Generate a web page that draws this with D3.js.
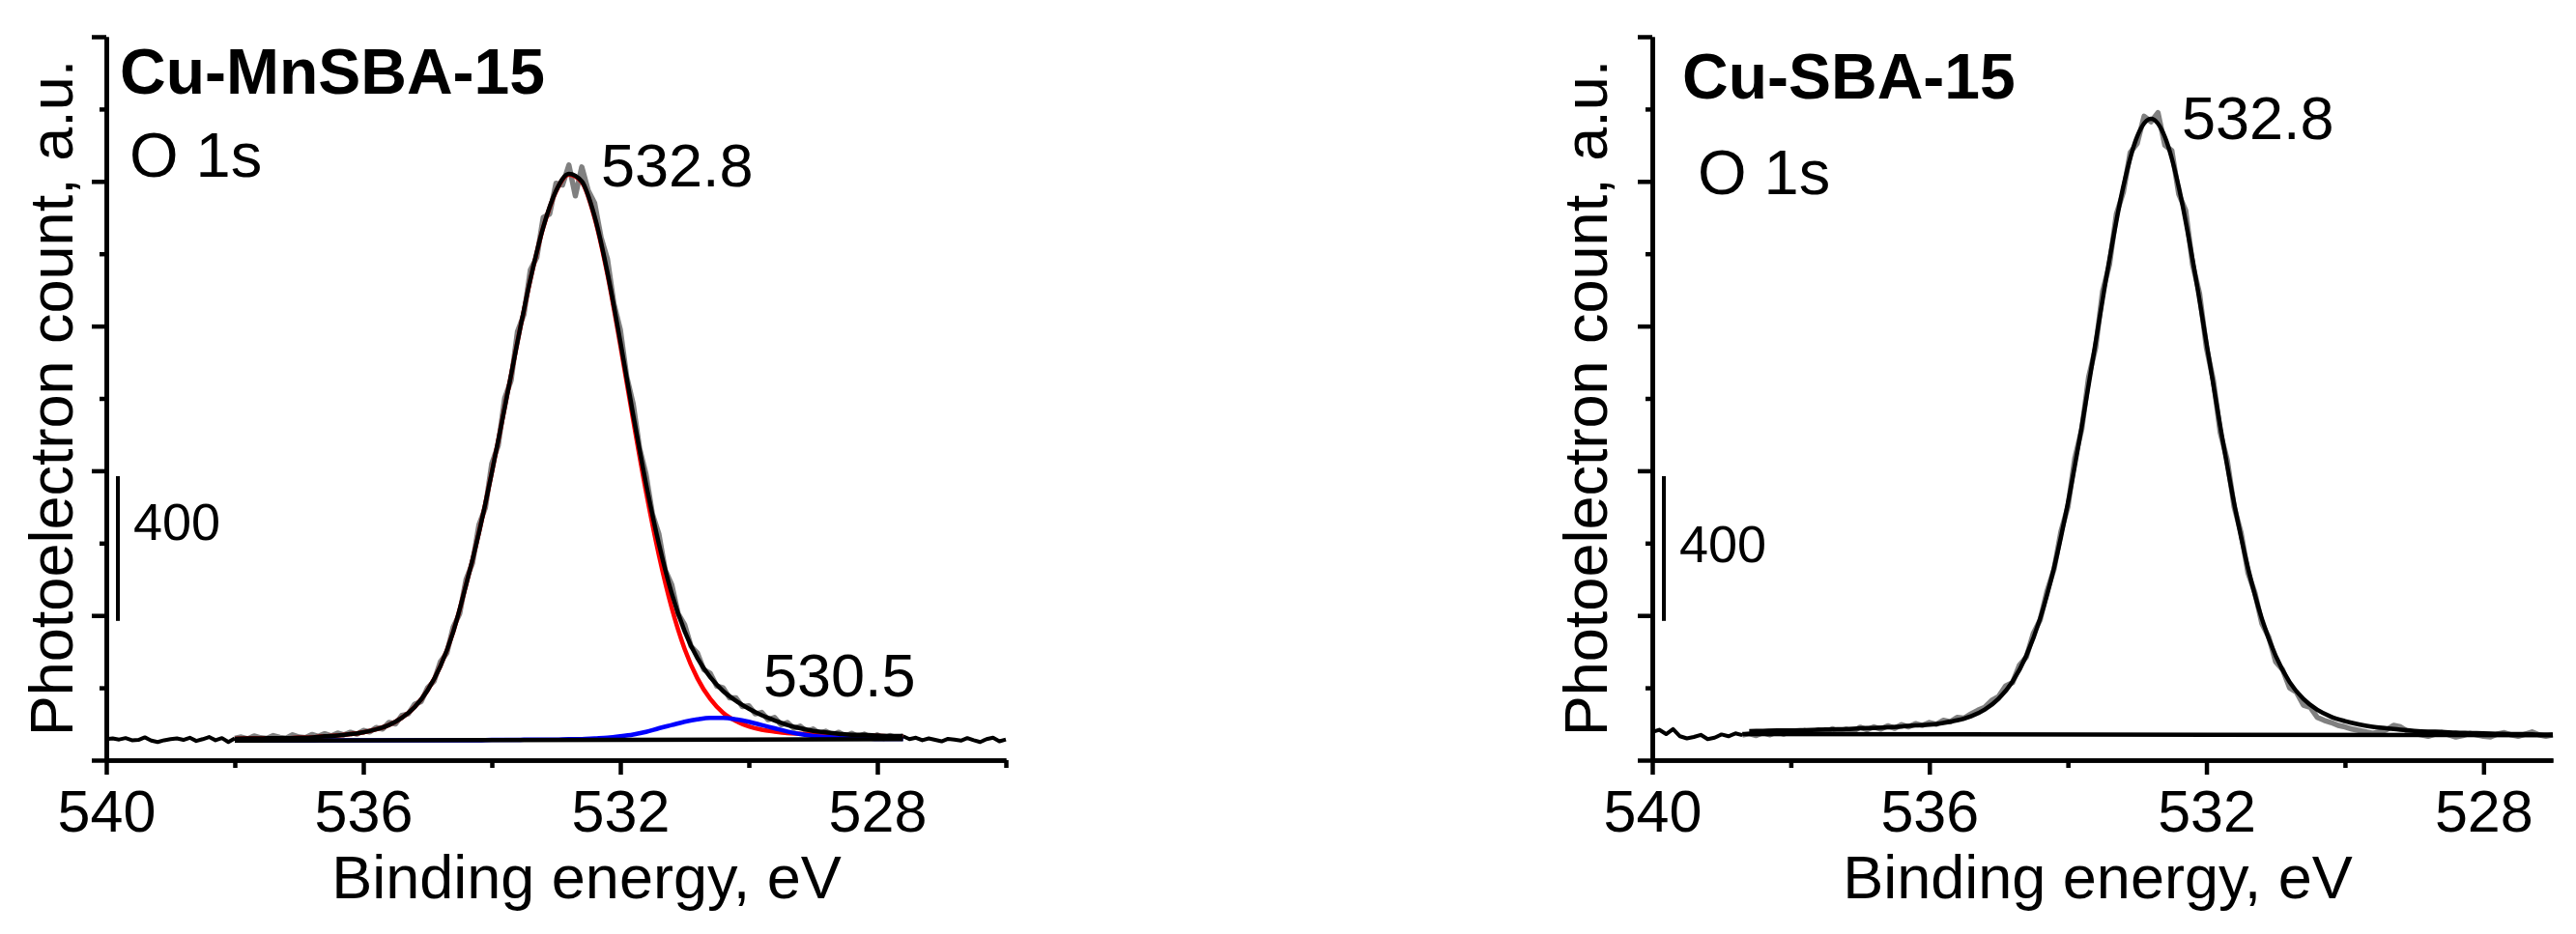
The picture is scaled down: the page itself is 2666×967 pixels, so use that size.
<!DOCTYPE html>
<html>
<head>
<meta charset="utf-8">
<script src="https://cdn.jsdelivr.net/npm/d3@7/dist/d3.min.js"></script>
<style>
  body { margin: 0; background: #fff; }
  svg { display: block; font-family: 'Liberation Sans', Arial, sans-serif; }
</style>
</head>
<body>
<script>
/* global d3 */

// x ticks
var majorTicks = [540, 536, 532, 528]
var leftMinorTicks = [538, 534, 530, 526]
var rightMinorTicks = [538, 534, 530]
var yMajorTicks = [0, 400, 800, 1200, 1600, 2000]
var yMinorTicks = [200, 600, 1000, 1400, 1800]

// Cu-MnSBA-15, fitted curves (binding energy, eV / counts)
var leftFitE = [538.0, 537.8, 537.6, 537.4, 537.2, 537.0, 536.8, 536.6, 536.4, 536.2,
  536.0, 535.8, 535.6, 535.4, 535.2, 535.0, 534.8, 534.6, 534.4, 534.2,
  534.0, 533.8, 533.6, 533.4, 533.2, 533.0, 532.8, 532.6, 532.4, 532.2,
  532.0, 531.8, 531.6, 531.4, 531.2, 531.0, 530.8, 530.6, 530.4, 530.2,
  530.0, 529.8, 529.6, 529.4, 529.2, 529.0, 528.8, 528.6, 528.4, 528.2,
  528.0, 527.8, 527.6]
var leftEnvelope = [59, 60, 60, 61, 61, 62, 63, 66, 68, 72,
  77, 85, 97, 117, 147, 193, 260, 355, 485, 629,
  795, 974, 1157, 1329, 1473, 1574, 1621, 1600, 1503, 1348,
  1157, 955, 764, 598, 461, 357, 282, 229, 191, 164,
  142, 124, 110, 97, 88, 81, 77, 73, 70, 70,
  68, 67, 67]
var leftRed = [59, 60, 60, 61, 61, 62, 63, 66, 68, 72,
  77, 85, 97, 117, 147, 193, 260, 355, 485, 629,
  795, 974, 1157, 1328, 1472, 1573, 1619, 1598, 1499, 1342,
  1147, 940, 742, 567, 421, 308, 226, 169, 131, 108,
  93, 84, 79, 75, 73, 71, 71, 69, 68, 68,
  67, 66, 66]
var leftBlue = [54, 54, 54, 54, 54, 54, 54, 55, 55, 55,
  55, 55, 55, 55, 55, 55, 55, 55, 55, 55,
  56, 56, 56, 57, 57, 57, 58, 58, 60, 62,
  66, 71, 78, 88, 97, 106, 113, 117, 117, 113,
  106, 97, 88, 79, 72, 67, 64, 62, 60, 60,
  59, 59, 59]
var leftBaseline = [[538.0, 54], [527.6, 58]]

// Cu-MnSBA-15, measured spectrum
var leftRaw = [
  [540.0, 58], [539.9, 60], [539.8, 57], [539.7, 61], [539.6, 55], [539.5, 56], [539.4, 63], [539.3, 54], [539.2, 50], [539.1, 55],
  [539.0, 58], [538.9, 60], [538.8, 56], [538.7, 62], [538.6, 53], [538.5, 58], [538.4, 64], [538.3, 55], [538.2, 61], [538.1, 50],
  [538.0, 60], [537.9, 64], [537.8, 59], [537.7, 67], [537.6, 62], [537.5, 60], [537.4, 68], [537.3, 63], [537.2, 61], [537.1, 70],
  [537.0, 64], [536.9, 62], [536.8, 71], [536.7, 66], [536.6, 73], [536.5, 67], [536.4, 75], [536.3, 70], [536.2, 77], [536.1, 72],
  [536.0, 82], [535.9, 78], [535.8, 90], [535.7, 86], [535.6, 104], [535.5, 100], [535.4, 124], [535.3, 128], [535.2, 155], [535.1, 162],
  [535.0, 200], [534.9, 218], [534.8, 272], [534.7, 296], [534.6, 368], [534.5, 405], [534.4, 500], [534.3, 545], [534.2, 650], [534.1, 698],
  [534.0, 820], [533.9, 870], [533.8, 1000], [533.7, 1050], [533.6, 1185], [533.5, 1232], [533.4, 1355], [533.3, 1390], [533.2, 1500], [533.1, 1510],
  [533.0, 1595], [532.9, 1590], [532.8, 1645], [532.7, 1560], [532.6, 1640], [532.5, 1575], [532.4, 1540], [532.3, 1445], [532.2, 1385], [532.1, 1262],
  [532.0, 1190], [531.9, 1060], [531.8, 985], [531.7, 862], [531.6, 790], [531.5, 680], [531.4, 625], [531.3, 525], [531.2, 485], [531.1, 405],
  [531.0, 375], [530.9, 315], [530.8, 296], [530.7, 250], [530.6, 240], [530.5, 205], [530.4, 200], [530.3, 172], [530.2, 172], [530.1, 148],
  [530.0, 150], [529.9, 128], [529.8, 132], [529.7, 112], [529.6, 118], [529.5, 98], [529.4, 104], [529.3, 88], [529.2, 94], [529.1, 80],
  [529.0, 86], [528.9, 74], [528.8, 80], [528.7, 70], [528.6, 77], [528.5, 66], [528.4, 74], [528.3, 65], [528.2, 72], [528.1, 62],
  [528.0, 70], [527.9, 60], [527.8, 68], [527.7, 62], [527.6, 66], [527.5, 58], [527.4, 62], [527.3, 55], [527.2, 60], [527.1, 56],
  [527.0, 52], [526.9, 59], [526.8, 57], [526.7, 54], [526.6, 61], [526.5, 55], [526.4, 50], [526.3, 58], [526.2, 62], [526.1, 52],
  [526.0, 57]
]

// Cu-SBA-15, fitted curve
var rightFitE = [538.6, 538.4, 538.2, 538.0, 537.8, 537.6, 537.4, 537.2, 537.0, 536.8,
  536.6, 536.4, 536.2, 536.0, 535.8, 535.6, 535.4, 535.2, 535.0, 534.8,
  534.6, 534.4, 534.2, 534.0, 533.8, 533.6, 533.4, 533.2, 533.0, 532.8,
  532.6, 532.4, 532.2, 532.0, 531.8, 531.6, 531.4, 531.2, 531.0, 530.8,
  530.6, 530.4, 530.2, 530.0, 529.8, 529.6, 529.4, 529.2, 529.0, 528.8,
  528.6, 528.4, 528.2, 528.0, 527.8, 527.6, 527.4, 527.2, 527.0]
var rightEnvelope = [80, 81, 82, 82, 83, 84, 85, 86, 88, 89,
  91, 93, 96, 98, 103, 110, 121, 140, 170, 217,
  289, 392, 532, 711, 923, 1155, 1385, 1586, 1724, 1773,
  1723, 1585, 1384, 1154, 922, 710, 531, 391, 288, 216,
  169, 139, 120, 108, 99, 92, 88, 84, 81, 79,
  78, 76, 75, 74, 73, 72, 72, 71, 71]
var rightBaseline = [[538.7, 72], [527.0, 69]]

// Cu-SBA-15, measured spectrum
var rightRaw = [
  [540.0, 78], [539.9, 84], [539.8, 72], [539.7, 86], [539.6, 66], [539.5, 60], [539.4, 64], [539.3, 70], [539.2, 58], [539.1, 62],
  [539.0, 71], [538.9, 66], [538.8, 74], [538.7, 69], [538.6, 73], [538.5, 68], [538.4, 76], [538.3, 70], [538.2, 78], [538.1, 72],
  [538.0, 80], [537.9, 75], [537.8, 82], [537.7, 77], [537.6, 84], [537.5, 79], [537.4, 87], [537.3, 78], [537.2, 85], [537.1, 80],
  [537.0, 91], [536.9, 84], [536.8, 92], [536.7, 86], [536.6, 95], [536.5, 88], [536.4, 98], [536.3, 92], [536.2, 101], [536.1, 96],
  [536.0, 104], [535.9, 99], [535.8, 110], [535.7, 106], [535.6, 118], [535.5, 116], [535.4, 128], [535.3, 138], [535.2, 146], [535.1, 165],
  [535.0, 176], [534.9, 205], [534.8, 214], [534.7, 262], [534.6, 285], [534.5, 350], [534.4, 388], [534.3, 468], [534.2, 528], [534.1, 632],
  [534.0, 700], [533.9, 835], [533.8, 915], [533.7, 1060], [533.6, 1140], [533.5, 1295], [533.4, 1370], [533.3, 1510], [533.2, 1570], [533.1, 1680],
  [533.0, 1705], [532.9, 1780], [532.8, 1765], [532.7, 1790], [532.6, 1700], [532.5, 1685], [532.4, 1565], [532.3, 1520], [532.2, 1370], [532.1, 1290],
  [532.0, 1140], [531.9, 1050], [531.8, 905], [531.7, 830], [531.6, 700], [531.5, 628], [531.4, 518], [531.3, 462], [531.2, 378], [531.1, 340],
  [531.0, 272], [530.9, 250], [530.8, 200], [530.7, 188], [530.6, 152], [530.5, 146], [530.4, 118], [530.3, 110], [530.2, 104], [530.1, 96],
  [530.0, 92], [529.9, 86], [529.8, 82], [529.7, 78], [529.6, 74], [529.5, 78], [529.4, 84], [529.3, 96], [529.2, 92], [529.1, 80],
  [529.0, 74], [528.9, 70], [528.8, 66], [528.7, 72], [528.6, 76], [528.5, 70], [528.4, 64], [528.3, 68], [528.2, 74], [528.1, 70],
  [528.0, 66], [527.9, 64], [527.8, 72], [527.7, 76], [527.6, 70], [527.5, 66], [527.4, 72], [527.3, 78], [527.2, 70], [527.1, 66],
  [527.0, 70]
]

start()

function start () {
  var svg = d3.select('body').append('svg')
    .attr('width', 2666)
    .attr('height', 967)

  svg.append('rect')
    .attr('width', 2666)
    .attr('height', 967)
    .style('fill', '#fff')

  drawPanel(svg, {
    left: 110,
    right: 1041,
    domain: [540, 526],
    minor: leftMinorTicks,
    fitFrom: 538.0,
    fitTo: 527.6,
    raw: leftRaw,
    fitE: leftFitE,
    envelope: leftEnvelope,
    components: [
      { values: leftRed, color: '#ff0000' },
      { values: leftBlue, color: '#0000ff' }
    ],
    baseline: leftBaseline,
    title: 'Cu-MnSBA-15',
    titleX: 124,
    titleY: 97,
    lineX: 134,
    lineY: 183,
    ylabelX: 75,
    xlabelX: 607,
    barX: 122,
    barLabelY: 559,
    peaks: [
      { text: '532.8', x: 622, y: 193 },
      { text: '530.5', x: 790, y: 721 }
    ]
  })

  drawPanel(svg, {
    left: 1710,
    right: 2642,
    domain: [540, 527],
    minor: rightMinorTicks,
    fitFrom: 538.7,
    fitTo: 527.0,
    raw: rightRaw,
    fitE: rightFitE,
    envelope: rightEnvelope,
    components: [],
    baseline: rightBaseline,
    title: 'Cu-SBA-15',
    titleX: 1741,
    titleY: 102,
    lineX: 1757,
    lineY: 201,
    ylabelX: 1663,
    xlabelX: 2171,
    barX: 1722,
    barLabelY: 582,
    peaks: [
      { text: '532.8', x: 2258, y: 144 }
    ]
  })
}

function drawPanel (svg, p) {
  var x = d3.scaleLinear().domain(p.domain).range([p.left, p.right])
  var y = d3.scaleLinear().domain([0, 2000]).range([787, 38])
  var g = svg.append('g')

  var rawLine = d3.line()
    .x(function (d) { return x(d[0]) })
    .y(function (d) { return y(d[1]) })

  var fitLine = d3.line()
    .x(function (d) { return x(d[0]) })
    .y(function (d) { return y(d[1]) })
    .curve(d3.curveMonotoneX)

  // measured data: grey inside fit window, black outside
  g.append('path')
    .datum(p.raw.filter(function (d) { return d[0] <= p.fitFrom && d[0] >= p.fitTo }))
    .attr('d', rawLine)
    .style('fill', 'none')
    .style('stroke', '#808080')
    .style('stroke-width', 5.5)
    .style('stroke-linejoin', 'round')

  ;[
    p.raw.filter(function (d) { return d[0] >= p.fitFrom }),
    p.raw.filter(function (d) { return d[0] <= p.fitTo })
  ].forEach(function (part) {
    if (part.length < 2) return
    g.append('path')
      .datum(part)
      .attr('d', rawLine)
      .style('fill', 'none')
      .style('stroke', '#000')
      .style('stroke-width', 4)
      .style('stroke-linejoin', 'round')
  })

  p.components.forEach(function (c) {
    g.append('path')
      .datum(p.fitE.map(function (e, i) { return [e, c.values[i]] }))
      .attr('d', fitLine)
      .style('fill', 'none')
      .style('stroke', c.color)
      .style('stroke-width', 4.5)
  })

  g.append('path')
    .datum(p.baseline)
    .attr('d', rawLine)
    .style('fill', 'none')
    .style('stroke', '#000')
    .style('stroke-width', 4.5)

  g.append('path')
    .datum(p.fitE.map(function (e, i) { return [e, p.envelope[i]] }))
    .attr('d', fitLine)
    .style('fill', 'none')
    .style('stroke', '#000')
    .style('stroke-width', 4.5)

  // axes
  var xAxis = g.append('g')
    .attr('transform', 'translate(0,787)')
    .call(d3.axisBottom(x).tickValues(majorTicks).tickSize(15).tickSizeOuter(0).tickPadding(16).tickFormat(d3.format('d')))
  g.append('g')
    .attr('transform', 'translate(0,787)')
    .call(d3.axisBottom(x).tickValues(p.minor).tickSize(8).tickSizeOuter(0).tickFormat(''))
  g.append('g')
    .attr('transform', 'translate(' + p.left + ',0)')
    .call(d3.axisLeft(y).tickValues(yMajorTicks).tickSize(15).tickSizeOuter(0).tickFormat(''))
  g.append('g')
    .attr('transform', 'translate(' + p.left + ',0)')
    .call(d3.axisLeft(y).tickValues(yMinorTicks).tickSize(7).tickSizeOuter(0).tickFormat(''))

  g.selectAll('.domain, .tick line')
    .style('stroke', '#000')
    .style('stroke-width', 4.5)
  xAxis.selectAll('text')
    .style('font-size', '61px')
    .style('font-family', "'Liberation Sans', Arial, sans-serif")
    .style('fill', '#000')

  // scale bar: 400 counts
  g.append('line')
    .attr('x1', p.barX)
    .attr('x2', p.barX)
    .attr('y1', y(385))
    .attr('y2', y(785))
    .style('stroke', '#000')
    .style('stroke-width', 4)
  g.append('text')
    .attr('x', p.barX + 16)
    .attr('y', p.barLabelY)
    .style('font-size', '54px')
    .text('400')

  // titles and labels
  g.append('text')
    .attr('x', p.titleX)
    .attr('y', p.titleY)
    .style('font-size', '66px')
    .style('font-weight', 'bold')
    .text(p.title)
  g.append('text')
    .attr('x', p.lineX)
    .attr('y', p.lineY)
    .style('font-size', '65px')
    .text('O 1s')
  p.peaks.forEach(function (pk) {
    g.append('text')
      .attr('x', pk.x)
      .attr('y', pk.y)
      .style('font-size', '63px')
      .text(pk.text)
  })
  g.append('text')
    .attr('transform', 'translate(' + p.ylabelX + ',412) rotate(-90)')
    .attr('text-anchor', 'middle')
    .style('font-size', '63px')
    .text('Photoelectron count, a.u.')
  g.append('text')
    .attr('x', p.xlabelX)
    .attr('y', 930)
    .attr('text-anchor', 'middle')
    .style('font-size', '63px')
    .text('Binding energy, eV')
}
</script>
</body>
</html>
